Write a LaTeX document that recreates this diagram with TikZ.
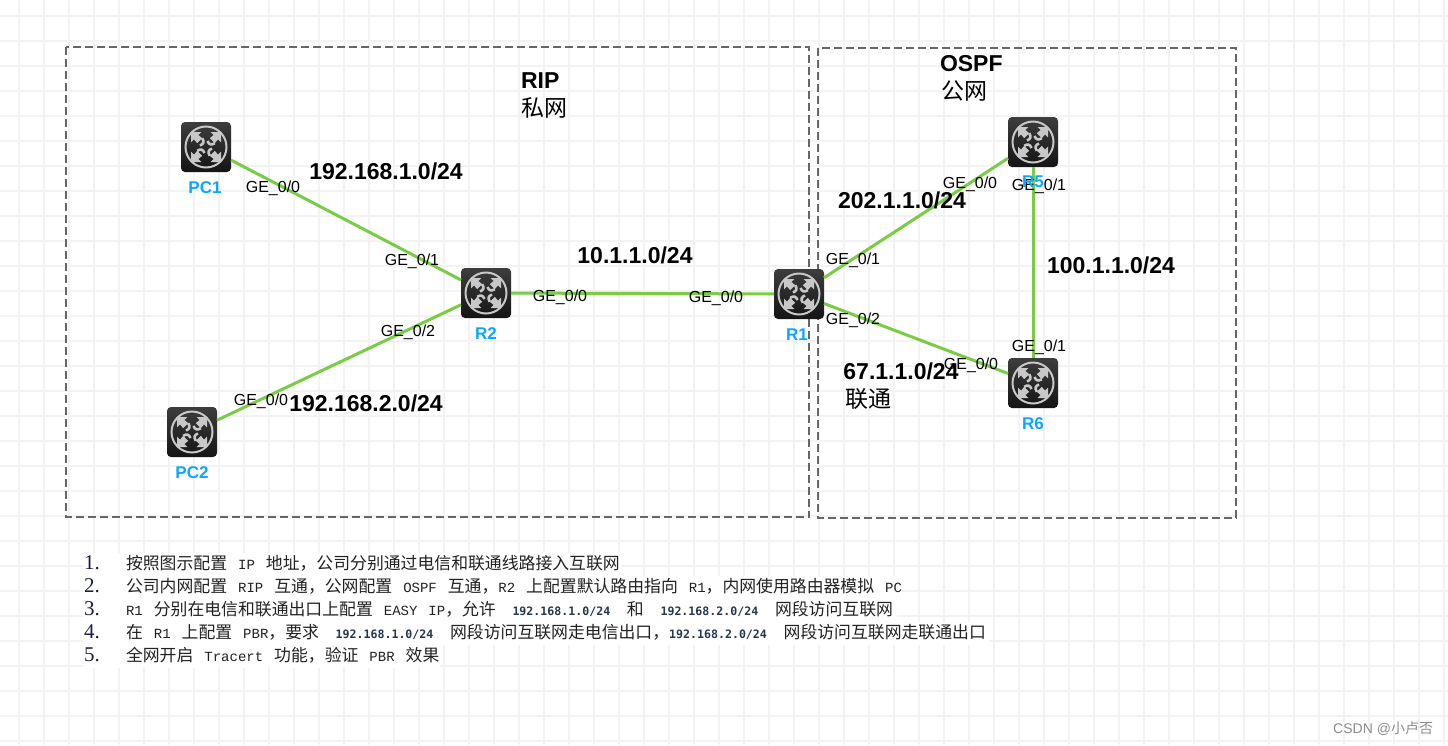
\documentclass[tikz,border=0pt]{standalone}
\usepackage{fontspec}
\setmainfont{Liberation Sans}
\newfontfamily\cjk{Noto Sans CJK SC}
\newfontfamily\mn{Liberation Mono}
\newfontfamily\smallmono{DejaVu Sans Mono}
\newfontfamily\numf{Liberation Serif}
\definecolor{gridc}{HTML}{F3F3F3}
\definecolor{linkc}{HTML}{7ACB45}
\definecolor{namec}{HTML}{0CA6FF}
\definecolor{dashc}{HTML}{666666}
\definecolor{iconc}{HTML}{C8C8C8}
\definecolor{listc}{HTML}{222222}
\newcommand{\cj}[1]{{\fontsize{16.85}{17}\selectfont\cjk #1}}
\newcommand{\la}[1]{{\fontsize{14}{17}\selectfont\mn #1}}
\newcommand{\sk}{\hspace*{11pt}}
\newcommand{\wid}{\hspace*{16.7pt}}
\newcommand{\ipx}[1]{{\fontsize{11.6}{15}\selectfont\smallmono\bfseries\color[HTML]{27374D}#1}}
\newcommand{\iconarm}[1]{%
  \begin{scope}[rotate=#1]
    \fill[iconc] (15,-15) -- (15,-4.6) -- (12,-7.6) -- (8.8,-3.8) -- (3.8,-8.8) -- (7.6,-12) -- (4.6,-15) -- cycle;
    \draw[iconc,line width=2.6pt] (8.8,-3.8) .. controls (5,-1.5) and (3,-2.5) .. (1.5,-6);
  \end{scope}}
\newcommand{\devicon}[1]{%
  \begin{scope}[shift={(#1.center)}]
    \draw[iconc,line width=2pt] (0,0) circle[radius=20.5];
    \iconarm{0}\iconarm{90}\iconarm{180}\iconarm{270}
  \end{scope}}
\tikzset{
  x=1pt,y=-1pt,
  every node/.style={inner sep=0pt,outer sep=0pt},
  device/.style={rectangle,rounded corners=4pt,minimum size=50pt,
    top color=black!76,bottom color=black!92,shading angle=0},
  link/.style={draw=linkc,line width=3pt},
  zone/.style={draw=dashc,line width=2pt,dash pattern=on 8pt off 4pt},
  port/.style={font=\fontsize{16}{16}\selectfont,text height=11.5pt,text depth=0.5pt,black},
  subnet/.style={font=\fontsize{23}{23}\selectfont\bfseries,text height=16.5pt,text depth=0pt,black},
  zonetext/.style={anchor=west,font=\fontsize{23}{23}\selectfont\bfseries,text height=16.5pt,text depth=0pt,black},
  zonecjk/.style={anchor=west,font=\fontsize{23}{23}\selectfont\cjk,black},
  devname/.style={font=\fontsize{17}{17}\selectfont\bfseries,text=namec,text height=12pt,text depth=0pt},
  listnum/.style={anchor=west,font=\fontsize{21}{21}\selectfont\numf,text=listc!85!blue},
  listline/.style={anchor=west,text=listc,text height=12pt,text depth=1pt},
  mask/.style={fill=white,draw=none},
  mark text/.style={font=\fontsize{14}{14}\selectfont,text=black!45}
}
\begin{document}
\begin{tikzpicture}
\useasboundingbox (0,0) rectangle (1448,745);
% grid
\foreach \k in {0,...,57}{\draw[gridc,line width=2.5pt] ({19+25*\k},0) -- ({19+25*\k},745);}
\foreach \k in {0,...,29}{\draw[gridc,line width=2.5pt] (0,{16+25*\k}) -- (1448,{16+25*\k});}
% zones
\draw[zone] (66,46.5) rectangle (809,517);
\draw[zone] (818,48) rectangle (1236,518);
% devices
\node[device] (pc1) at (206,147) {};
\node[device] (pc2) at (192,432) {};
\node[device] (r2) at (486,293) {};
\node[device] (r1) at (799,294) {};
\node[device] (r5) at (1033,142) {};
\node[device] (r6) at (1033,383) {};
\devicon{pc1}\devicon{pc2}\devicon{r2}\devicon{r1}\devicon{r5}\devicon{r6}
% links
\draw[link] (pc1) -- (r2);
\draw[link] (pc2) -- (r2);
\draw[link] (r2) -- (r1);
\draw[link] (r1) -- (r5);
\draw[link] (r1) -- (r6);
\draw[link] (r5) -- (r6);
% ports
\node[port] (p1) at (273,187) {GE\_0/0};
\node[port] (p2) at (412,260) {GE\_0/1};
\node[port] (p3) at (408,331) {GE\_0/2};
\node[port] (p4) at (261,400) {GE\_0/0};
\node[port] (p5) at (560,296) {GE\_0/0};
\node[port] (p6) at (716,297) {GE\_0/0};
\node[port] (p7) at (853,259) {GE\_0/1};
\node[port] (p8) at (853,319) {GE\_0/2};
\node[port] (p9) at (971,364) {GE\_0/0};
\node[port] (p10) at (970,183) {GE\_0/0};
\node[port] (p11) at (1039,185) {GE\_0/1};
\node[port] (p12) at (1039,346) {GE\_0/1};
% subnets
\node[subnet] (s1) at (386,171) {192.168.1.0/24};
\node[subnet] (s2) at (366,403) {192.168.2.0/24};
\node[subnet] (s3) at (635,255) {10.1.1.0/24};
\node[subnet] (s4) at (902,200) {202.1.1.0/24};
\node[subnet] (s5) at (1111,265) {100.1.1.0/24};
\node[subnet] (s6) at (901,371) {67.1.1.0/24};
\node[zonecjk] (t1) at (845,399) {联通};
\node[zonetext] (t2) at (521,80) {RIP};
\node[zonecjk] (t3) at (521,108) {私网};
\node[zonetext] (t4) at (940,63) {OSPF};
\node[zonecjk] (t5) at (941,91) {公网};
% names
\node[devname] (n1) at (205,187) {PC1};
\node[devname] (n2) at (192,472) {PC2};
\node[devname] (n3) at (486,333) {R2};
\node[devname] (n4) at (797,334) {R1};
\node[devname] (n5) at (1033,181) {R5};
\node[devname] (n6) at (1033,423) {R6};
% list background
\fill[mask] (83,553) rectangle (622,576);
\fill[mask] (83,576) rectangle (902,599);
\fill[mask] (83,599) rectangle (897,622);
\fill[mask] (83,622) rectangle (989,645);
\fill[mask] (83,645) rectangle (440,668);
% list
\node[listnum] (l1) at (84,563) {1.};
\node[listnum] (l2) at (84,586) {2.};
\node[listnum] (l3) at (84,609) {3.};
\node[listnum] (l4) at (84,632) {4.};
\node[listnum] (l5) at (84,655) {5.};
\node[listline] (a1) at (126,564) {\cj{按照图示配置}\sk\la{IP}\sk\cj{地址，公司分别通过电信和联通线路接入互联网}};
\node[listline] (a2) at (126,587) {\cj{公司内网配置}\sk\la{RIP}\sk\cj{互通，公网配置}\sk\la{OSPF}\sk\cj{互通，}\la{R2}\sk\cj{上配置默认路由指向}\sk\la{R1}\cj{，内网使用路由器模拟}\sk\la{PC}};
\node[listline] (a3) at (126,610) {\la{R1}\sk\cj{分别在电信和联通出口上配置}\sk\la{EASY}\sk\la{IP}\cj{，允许}\wid\ipx{192.168.1.0/24}\wid\cj{和}\wid\ipx{192.168.2.0/24}\wid\cj{网段访问互联网}};
\node[listline] (a4) at (126,633) {\cj{在}\sk\la{R1}\sk\cj{上配置}\sk\la{PBR}\cj{，要求}\wid\ipx{192.168.1.0/24}\wid\cj{网段访问互联网走电信出口，}\ipx{192.168.2.0/24}\wid\cj{网段访问互联网走联通出口}};
\node[listline] (a5) at (126,656) {\cj{全网开启}\sk\la{Tracert}\sk\cj{功能，验证}\sk\la{PBR}\sk\cj{效果}};
% watermark
\node[mark text,anchor=east] (w) at (1433,729) {CSDN @{\cjk 小卢否}};
\end{tikzpicture}
\end{document}
